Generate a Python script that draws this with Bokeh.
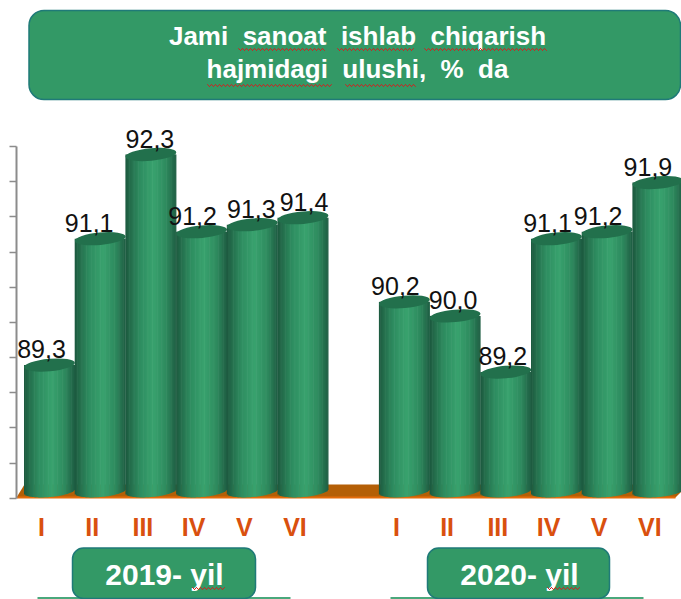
from bokeh.embed import file_html
from bokeh.resources import INLINE
from bokeh.plotting import figure
from bokeh.models import Range1d, LinearAxis, FixedTicker, BoxAnnotation, Label, PolyAnnotation, ColumnDataSource
from bokeh.core.properties import value
import math

# ---- data
months = ["I", "II", "III", "IV", "V", "VI"]
values_2019 = [89.3, 91.1, 92.3, 91.2, 91.3, 91.4]
values_2020 = [90.2, 90.0, 89.2, 91.1, 91.2, 91.9]
labels_2019 = ["89,3", "91,1", "92,3", "91,2", "91,3", "91,4"]
labels_2020 = ["90,2", "90,0", "89,2", "91,1", "91,2", "91,9"]
axis_ticks = [87.5, 88.0, 88.5, 89.0, 89.5, 90.0, 90.5, 91.0, 91.5, 92.0, 92.5]
title_lines = ["Jami\u00a0\u00a0sanoat\u00a0\u00a0ishlab\u00a0\u00a0chiqarish", "hajmidagi\u00a0\u00a0ulushi,\u00a0\u00a0%\u00a0\u00a0da"]
group_titles = ["2019- yil", "2020- yil"]

# ---- style / layout
label_dx = [-8, -11, -1, -9, -1, 1, -9, -2, -3, -9, -9, -10]
OX, OY = 0, 0
W, H = 681, 599
F_L, F_B = 16, 599           # frame left/bottom in px
PX = 50.7; X0 = 49           # px per slot, px of slot 0
PY = 70.17; Y_REF = 92.3; Y_REF_PX = 154
AX_PY = 70.34
BASE_SHIFT = 8               # renderer's baseline sits this far below the anchor
slots = [0, 1, 2, 3, 4, 5, 7, 8, 9, 10, 11, 12]
vals = values_2019 + values_2020
labels = labels_2019 + labels_2020
GREEN = "#339966"; EDGE = "#1f7a78"
ORANGE_D = "#b45f06"; ORANGE_L = "#e36c0a"

def yval(px):  return Y_REF - (px - Y_REF_PX) / PY
def xval(px):  return (px - X0) / PX

p = figure(width=W, height=H, output_backend="svg", toolbar_location=None,
           x_range=Range1d(xval(F_L), xval(W)),
           y_range=Range1d(yval(F_B), yval(OY)),
           x_axis_location=None, y_axis_location=None,
           min_border_left=F_L - OX, min_border_right=0, min_border_top=0,
           min_border_bottom=0, outline_line_color=None,
           background_fill_color="white", border_fill_color="white")
p.grid.visible = False

# left axis (own scale, no labels)
p.extra_y_ranges["ticks"] = Range1d(92.5 - (F_B - 146) / AX_PY, 92.5 + (146 - OY) / AX_PY)
ax = LinearAxis(y_range_name="ticks", ticker=FixedTicker(ticks=axis_ticks),
                major_label_text_font_size="0px", major_label_text_color=None,
                major_label_standoff=0, axis_line_color="#8c8c8c", axis_line_width=2,
                major_tick_line_color="#8c8c8c", major_tick_line_width=1.5,
                major_tick_in=0, major_tick_out=7, minor_tick_line_color=None,
                bounds=(87.5, 92.5))
p.add_layout(ax, "left")

# floor
fx = [xval(16), xval(24), xval(681), xval(681), xval(675)]
fy = [yval(497), yval(484), yval(484), yval(491), yval(497)]
p.patch(fx, fy, fill_color=ORANGE_D, line_color=None)
p.line([xval(16), xval(675)], [yval(497), yval(497)], line_color=ORANGE_L, line_width=2)

# month labels
p.text(x=[s - 8 / PX for s in slots], y=[yval(534 - BASE_SHIFT)] * 12, text=months + months, text_align="center",
       text_baseline="alphabetic", text_font=value("Liberation Sans"), text_font_style="bold",
       text_font_size="25px", text_color="#d9500f")

# cylinders: strips of a horizontal shading
stops = [(0.0, (28, 88, 62)), (0.10, (36, 110, 76)), (0.28, (46, 140, 96)), (0.55, (56, 162, 110)),
         (0.80, (46, 138, 94)), (0.93, (36, 108, 76)), (1.0, (30, 92, 66))]
def shade(u):
    for (a, ca), (b, cb) in zip(stops, stops[1:]):
        if u <= b:
            k = (u - a) / (b - a)
            c = [round(ca[i] + (cb[i] - ca[i]) * k) for i in range(3)]
            return "#%02x%02x%02x" % tuple(c)
    return "#1e5c42"

N = 40
BW = 51.0          # px width
TILT = 0.09
for s, v in zip(slots, vals):
    L, R, T, B, C = [], [], [], [], []
    for k in range(N):
        u0, u1 = k / N, (k + 1) / N
        uc = (u0 + u1) / 2
        nx = 2 * uc - 1
        dy = 6 * math.sqrt(max(0, 1 - nx * nx)) - TILT * nx * BW / 2
        L.append(s + (u0 - 0.5) * BW / PX)
        R.append(s + (u1 - 0.5) * BW / PX + (0.012 if k < N - 1 else 0))
        T.append(v)
        B.append(yval(490.5) - dy / PY)
        C.append(shade(uc))
    p.quad(left=L, right=R, top=T, bottom=B, fill_color=C, line_color=None)
    p.ellipse(x=[s], y=[v], width=BW, height=12.5, width_units="screen", height_units="screen",
              angle=TILT, fill_color="#22704c", line_color=None)

# value labels
src = ColumnDataSource(dict(x=slots, y=vals, t=labels, dx=label_dx))
p.text(x="x", y="y", text="t", source=src, x_offset="dx", y_offset=-8 - BASE_SHIFT, text_align="center",
       text_baseline="alphabetic", text_font=value("Liberation Sans"), text_font_size="25px",
       text_color="#111111")

# boxes and titles (canvas px)
def box(l, t, r, b, rad, fill=GREEN, line=EDGE):
    return BoxAnnotation(left=l - OX, right=r - OX, top=t - OY, bottom=b - OY,
                         left_units="canvas", right_units="canvas", top_units="canvas", bottom_units="canvas",
                         fill_color=fill, fill_alpha=1, line_color=line, line_alpha=1, line_width=1.5,
                         border_radius=rad, level="overlay")

for l, r in [(37, 290), (390, 643)]:
    p.add_layout(box(l, 596.5, r, 599, 0, "#4aa87c", None))
p.add_layout(box(28.5, 10, 680, 99, 15))
p.add_layout(box(72, 547.5, 255, 598, 11))
p.add_layout(box(427, 547.5, 609, 598, 11))

def lab(x, y, t, size):
    p.add_layout(Label(x=x - OX, y=y - OY - BASE_SHIFT, x_units="canvas", y_units="canvas", text=t,
                       text_align="center", text_baseline="alphabetic", text_color="white",
                       text_font="Liberation Sans", text_font_style="bold", text_font_size=size,
                       level="overlay"))
lab(357, 43, title_lines[0], "26px")
lab(357, 76, title_lines[1], "26px")
lab(164, 582, group_titles[0], "30px")
lab(519, 582, group_titles[1], "30px")

# spell-check squiggles
def squiggle(x0, x1, y):
    xs, ys = [], []
    n = int((x1 - x0) / 2)
    for i in range(n + 1):
        xs.append(x0 + 2 * i - OX); ys.append(y - OY + (1 if i % 2 else -1))
    xs2 = xs + xs[::-1]; ys2 = ys + ys[::-1]
    p.add_layout(PolyAnnotation(xs=xs2, ys=ys2, xs_units="canvas", ys_units="canvas", fill_alpha=0,
                                line_color="#d02020", line_alpha=1, line_width=1, level="overlay", editable=False))
for a, b_, y in [(238, 324, 49), (337, 414, 49), (424, 546, 49), (207, 332, 85), (345, 416, 85), (192, 225, 588), (547, 579, 588)]:
    squiggle(a, b_, y)

open("out.html", "w").write(file_html(p, INLINE))
